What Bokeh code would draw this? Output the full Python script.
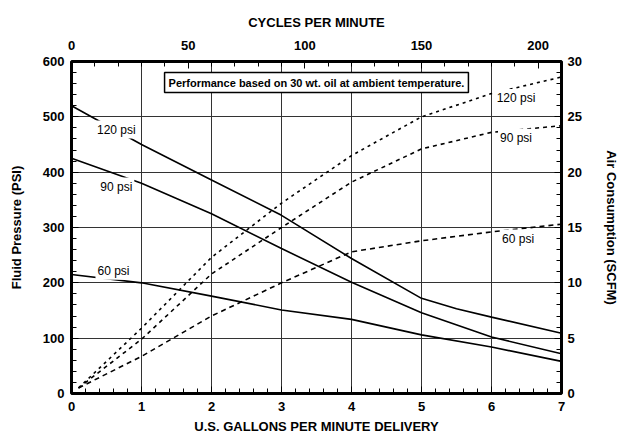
from bokeh.plotting import figure
from bokeh.models import Range1d, LinearAxis, SingleIntervalTicker, Label
from bokeh.embed import file_html
from bokeh.resources import INLINE

# ---- data ----
fluid_x_120 = [0, 1, 2, 3, 4, 5, 5.5, 6, 7]
fluid_120 = [520, 450, 386, 322, 244, 172, 153, 138, 109]
fluid_x = [0, 1, 2, 3, 4, 5, 6, 7]
fluid_90 = [425, 380, 325, 262, 201, 146, 102, 72]
fluid_60 = [215, 200, 176, 151, 134, 106, 84, 58]

air_x = [0.1, 1, 2, 3, 4, 5, 6, 7]
air_120 = [0.5, 5.9, 12.3, 17.2, 21.5, 25.0, 27.1, 28.6]
air_90 = [0.5, 4.9, 10.8, 15.0, 19.1, 22.1, 23.6, 24.2]
air_60 = [0.5, 3.35, 7.0, 10.0, 12.8, 13.8, 14.6, 15.3]

curve_names = ["120 psi", "90 psi", "60 psi"]
note_text = "Performance based on 30 wt. oil at ambient temperature."
right_title = "Air Consumption (SCFM)"

FONT = "Liberation Sans"
W, H = 621, 445

p = figure(width=W, height=H, output_backend="svg", toolbar_location=None,
           x_range=Range1d(0, 7), y_range=Range1d(0, 600),
           min_border_left=71, min_border_right=58, min_border_top=61,
           min_border_bottom=52, x_axis_location="below", y_axis_location="left")
p.extra_x_ranges = {"cyc": Range1d(0, 210)}
p.extra_y_ranges = {"scfm": Range1d(0, 30)}

p.outline_line_color = "black"
p.outline_line_width = 3
p.background_fill_color = "white"
p.border_fill_color = "white"

# grid
p.xgrid.ticker = SingleIntervalTicker(interval=1)
p.ygrid.ticker = SingleIntervalTicker(interval=100)
p.grid.grid_line_color = "#333333"
p.grid.grid_line_width = 1

def style_axis(ax, title, label_standoff, title_standoff):
    ax.axis_label = title
    ax.axis_label_text_font = FONT
    ax.axis_label_text_font_style = "bold"
    ax.axis_label_text_font_size = "13px"
    ax.axis_label_text_color = "black"
    ax.major_label_text_font = FONT
    ax.major_label_text_font_style = "bold"
    ax.major_label_text_font_size = "13px"
    ax.major_label_text_color = "black"
    ax.axis_line_color = None
    ax.major_tick_in = 7
    ax.major_tick_out = 0
    ax.minor_tick_in = 5
    ax.minor_tick_out = 0
    ax.major_tick_line_color = "black"
    ax.minor_tick_line_color = "black"
    ax.major_label_standoff = label_standoff
    ax.axis_label_standoff = title_standoff

bx = p.xaxis[0]
bx.ticker = SingleIntervalTicker(interval=1, num_minor_ticks=5)
style_axis(bx, "U.S. GALLONS PER MINUTE DELIVERY", 8, 5)

ly = p.yaxis[0]
ly.ticker = SingleIntervalTicker(interval=100, num_minor_ticks=5)
style_axis(ly, "Fluid Pressure (PSI)", 7, 16)

top = LinearAxis(x_range_name="cyc", ticker=SingleIntervalTicker(interval=50, num_minor_ticks=5))
style_axis(top, "CYCLES PER MINUTE", 12, 8)
p.add_layout(top, "above")

right = LinearAxis(y_range_name="scfm", ticker=SingleIntervalTicker(interval=5, num_minor_ticks=5))
style_axis(right, right_title, 6, 19)
p.add_layout(right, "right")

# fluid pressure curves (solid)
p.line(fluid_x_120, fluid_120, line_color="black", line_width=1.6)
p.line(fluid_x, fluid_90, line_color="black", line_width=1.6)
p.line(fluid_x, fluid_60, line_color="black", line_width=1.6)

# air consumption curves (dashed)
p.line(air_x, air_120, y_range_name="scfm", line_color="black", line_width=1.6, line_dash="3 4")
p.line(air_x, air_90, y_range_name="scfm", line_color="black", line_width=1.6, line_dash="4 4")
p.line(air_x, air_60, y_range_name="scfm", line_color="black", line_width=1.6, line_dash="5 4")

def curve_label(x, y, text, rng="default"):
    lab = Label(x=x, y=y, text=text, y_range_name=rng,
                text_font=FONT, text_font_size="12px", text_color="black",
                text_align="center", text_baseline="middle",
                background_fill_color="white", padding=2)
    p.add_layout(lab)

curve_label(0.64, 477, curve_names[0])
curve_label(0.64, 374, curve_names[1])
curve_label(0.60, 222, curve_names[2])
curve_label(6.35, 26.7, curve_names[0], "scfm")
curve_label(6.35, 23.1, curve_names[1], "scfm")
curve_label(6.38, 14.0, curve_names[2], "scfm")

note = Label(x=3.5, y=562, text=note_text, text_font=FONT, text_font_size="11px",
             text_font_style="bold", text_color="black",
             text_align="center", text_baseline="middle",
             background_fill_color="white", border_line_color="black",
             border_line_width=1.5, padding=4)
p.add_layout(note)

open("out.html", "w").write(file_html(p, INLINE))
